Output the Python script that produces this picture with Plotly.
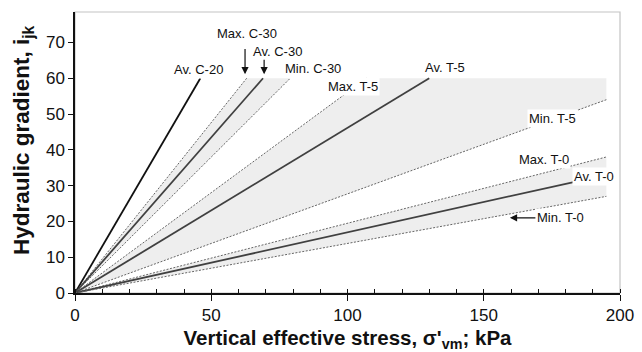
import plotly.graph_objects as go

# ---- data ----
series_names = ["Av. C-20", "Max. C-30", "Av. C-30", "Min. C-30",
                "Max. T-5", "Av. T-5", "Min. T-5",
                "Max. T-0", "Av. T-0", "Min. T-0"]
end_x = [46, 63, 69, 79, 107, 130, 195, 195, 183, 195]
end_y = [60, 60, 60, 60, 60, 60, 54, 38, 31, 27]
kind = ["av", "max", "av", "min", "max", "av", "min", "max", "av", "min"]

bands = [("Max. C-30", "Min. C-30"), ("Max. T-5", "Min. T-5"), ("Max. T-0", "Min. T-0")]
y_cap = 60
x_cap = 195

x_ticks = [0, 50, 100, 150, 200]
y_ticks = [0, 10, 20, 30, 40, 50, 60, 70]

idx = {n: i for i, n in enumerate(series_names)}
fig = go.Figure()

# bands
for hi, lo in bands:
    i, j = idx[hi], idx[lo]
    xs = [0, end_x[i]]
    ys = [0, end_y[i]]
    if end_y[i] >= y_cap and end_x[j] >= x_cap and end_y[j] < y_cap:
        xs.append(x_cap); ys.append(y_cap)
    xs += [end_x[j], 0]
    ys += [end_y[j], 0]
    fig.add_trace(go.Scatter(x=xs, y=ys, mode="lines", fill="toself",
                             fillcolor="#eeeeee", line=dict(width=0),
                             hoverinfo="skip", showlegend=False))

for n, ex, ey, k in zip(series_names, end_x, end_y, kind):
    if k == "av":
        col = "#111111" if n == "Av. C-20" else "#404040"
        line = dict(color=col, width=1.8)
    else:
        line = dict(color="#666666", width=1, dash="2px,1.5px")
    fig.add_trace(go.Scatter(x=[0, ex], y=[0, ey], mode="lines", line=line,
                             name=n, showlegend=False))

lab_font = dict(family="Liberation Sans, Arial, sans-serif", size=13, color="#111111")
labels = [
    ("Av. C-20", 45.3, 62.3),
    ("Max. C-30", 63.1, 72.4),
    ("Av. C-30", 74.3, 67.6),
    ("Min. C-30", 87.3, 62.8),
    ("Max. T-5", 102.0, 57.7),
    ("Av. T-5", 135.8, 63.0),
    ("Min. T-5", 175.4, 48.7),
    ("Max. T-0", 172.1, 37.3),
    ("Av. T-0", 190.5, 32.5),
    ("Min. T-0", 178.3, 21.0),
]
for t, x, y in labels:
    fig.add_annotation(x=x, y=y, text=t, showarrow=False, font=lab_font,
                       bgcolor="white", borderpad=1)

arrows = [(62.4, 61.1, 62.4, 68.6), (69.4, 61.1, 69.4, 65.6), (159.6, 21.0, 169.5, 21.0)]
for hx, hy, tx, ty in arrows:
    fig.add_annotation(x=hx, y=hy, ax=tx, ay=ty, xref="x", yref="y", axref="x", ayref="y",
                       text="", showarrow=True, arrowhead=2, arrowsize=1.2,
                       arrowwidth=1.2, arrowcolor="#111111")

fig.add_shape(type="rect", xref="paper", yref="paper", x0=0, y0=0, x1=1, y1=1,
              line=dict(color="#c4c4c4", width=1.2), layer="below")

axis_font = dict(family="Liberation Sans, Arial, sans-serif", size=17, color="#111111")
title_font = dict(family="Liberation Sans, Arial, sans-serif", size=20.5, color="#111111")
ytitle_font = dict(family="Liberation Sans, Arial, sans-serif", size=22.5, color="#111111")

fig.add_annotation(xref="paper", yref="paper", x=-0.095, y=0.545, textangle=-90,
                   text="<b>Hydraulic gradient, i<sub>jk</sub></b>", showarrow=False,
                   font=ytitle_font, xanchor="center", yanchor="middle")

fig.update_xaxes(range=[0, 200], tickvals=x_ticks, ticks="outside", ticklen=6,
                 tickcolor="#111", showline=True, linecolor="#111", linewidth=1.5,
                 showgrid=False, zeroline=False, tickfont=axis_font, automargin=False,
                 minor=dict(dtick=10, ticks="inside", ticklen=4, tickcolor="#111"),
                 title=dict(text="<b>Vertical effective stress, σ'<sub>vm</sub>; kPa</b>",
                            font=title_font, standoff=6))
fig.update_yaxes(range=[0, 78.5], tickvals=y_ticks, ticks="outside", ticklen=5,
                 tickcolor="#111", showline=True, linecolor="#111", linewidth=1.5,
                 showgrid=False, zeroline=False, tickfont=axis_font, automargin=False)

fig.update_layout(width=642, height=352, margin=dict(l=75, r=22, t=12, b=59),
                  plot_bgcolor="white", paper_bgcolor="white")

fig.write_html("out.html")
